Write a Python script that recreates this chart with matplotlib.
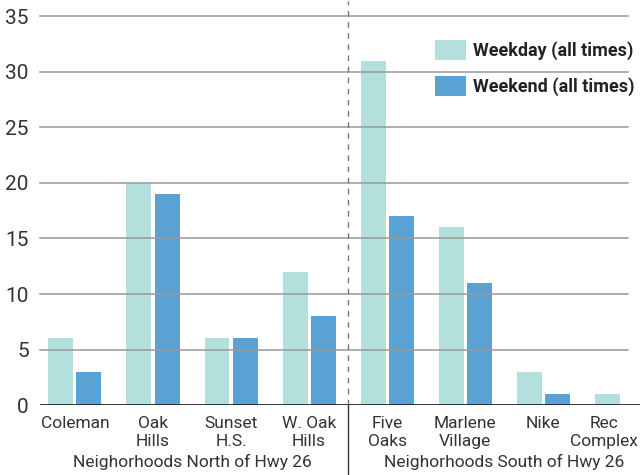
import matplotlib.pyplot as plt
import matplotlib.transforms as mtransforms
import numpy as np

plt.rcParams["font.family"] = ["Roboto", "DejaVu Sans"]

places = ["Coleman", "Oak\nHills", "Sunset\nH.S.", "W. Oak\nHills",
          "Five\nOaks", "Marlene\nVillage", "Nike", "Rec\nComplex"]
weekday = [6, 20, 6, 12, 31, 16, 3, 1]
weekend = [3, 19, 6, 8, 17, 11, 1, 0]
regions = ["Neighorhoods North of Hwy 26", "Neighorhoods South of Hwy 26"]
yticks = [0, 5, 10, 15, 20, 25, 30, 35]

c_weekday = "#b3e0dd"
c_weekend = "#5aa2d3"
text_col = "#333333"

fig = plt.figure(figsize=(6.42, 4.75), dpi=100)
ax = fig.add_axes([0.062, 0.147, 0.935, 0.819])

x = np.arange(len(places))
w = 0.32
ax.bar(x - w / 2 - 0.02, weekday, w, color=c_weekday, zorder=1,
       label="Weekday (all times)")
ax.bar(x + w / 2 + 0.02, weekend, w, color=c_weekend, zorder=1,
       label="Weekend (all times)")

ax.set_xlim(-0.45, 7.24)
ax.set_ylim(0, 35)
ax.set_yticks(yticks)
for y in yticks[1:]:
    ax.plot([-0.45, 7.08], [y, y], color="#999999", lw=1.1, zorder=2,
            clip_on=False)
ax.axhline(0, color="#222222", lw=2, zorder=3)

for s in ax.spines.values():
    s.set_visible(False)
ax.tick_params(axis="y", length=0, pad=8, labelsize=15, labelcolor=text_col)
ax.set_xticks(x)
ax.set_xticklabels(places, fontsize=12.5, color=text_col, linespacing=1.25)
ax.tick_params(axis="x", length=0, pad=8)

# last label would run off the right edge, nudge it left
last = ax.get_xticklabels()[-1]
last.set_transform(last.get_transform() +
                   mtransforms.ScaledTranslation(-0.17, 0, fig.dpi_scale_trans))

# split between the two regions
ax.plot([3.5, 3.5], [0, 36.4], color="#777777", lw=1, ls=(0, (4, 4)),
        zorder=2, clip_on=False)
trans = ax.get_xaxis_transform()
ax.plot([3.5, 3.5], [0, -0.2], color="#333333", lw=1, transform=trans,
        clip_on=False)
ax.text(1.5, -0.147, regions[0], transform=trans, ha="center", va="center",
        fontsize=12.5, color=text_col)
ax.text(5.5, -0.147, regions[1], transform=trans, ha="center", va="center",
        fontsize=12.5, color=text_col)

leg = ax.legend(loc="upper right", bbox_to_anchor=(1.002, 0.957), frameon=False,
                prop={"size": 13, "weight": "bold"}, handlelength=1.75,
                handleheight=1.3, handletextpad=0.35, labelspacing=0.9,
                borderaxespad=0)
for t in leg.get_texts():
    t.set_color("#222222")

fig.savefig("out.png", dpi=100)
